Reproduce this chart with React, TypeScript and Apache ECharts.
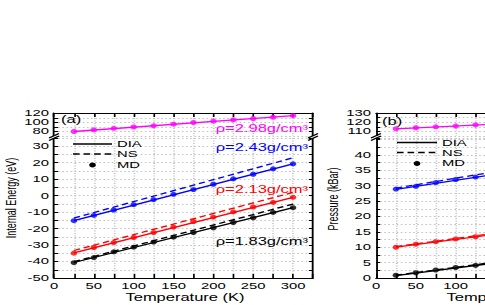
import { useEffect, useRef } from 'react';
import * as echarts from 'echarts';

// ---------- data: panel (a) internal energy (eV) ----------
const temperatures = [25, 50, 75, 100, 125, 150, 175, 200, 225, 250, 275, 300];
const lineEndsA = [25, 300];
const mdEnergy298 = [80, 83.6, 87, 90, 92.6, 96.2, 100, 103, 105.7, 108.5, 111.5, 115];
const mdEnergy243 = [-15.2, -12.0, -8.7, -5.5, -2.4, 0.8, 3.7, 6.9, 10.2, 13.0, 16.3, 19.3];
const mdEnergy213 = [-34.9, -31.5, -28.5, -25.4, -22.4, -19.1, -15.7, -13.0, -9.9, -6.9, -4.1, -1.0];
const mdEnergy183 = [-40.7, -37.6, -34.1, -31.3, -28.2, -25.2, -22.4, -19.5, -16.3, -13.4, -10.2, -7.3];
const diaEnergy298 = [80, 115];
const diaEnergy243 = [-15.2, 19.3];
const diaEnergy213 = [-34.8, -1.0];
const diaEnergy183 = [-40.6, -7.3];
const nsEnergy243 = [-13.6, 23.0];
const nsEnergy213 = [-33.3, 2.0];
const nsEnergy183 = [-40.1, -5.1];

// ---------- data: panel (b) pressure (kBar) ----------
const temperaturesB = [25, 50, 75, 100, 125];
const lineEndsB = [25, 150];
const mdPress298 = [112.8, 114.0, 115.0, 115.8, 117.1];
const mdPress243 = [28.9, 29.8, 31.0, 32.0, 32.8];
const mdPress213 = [10.0, 11.0, 11.8, 12.7, 13.4];
const mdPress183 = [0.9, 1.7, 2.6, 3.4, 4.1];
const diaPress298 = [112.8, 118.0];
const diaPress243 = [28.8, 33.7];
const diaPress213 = [10.0, 14.2];
const diaPress183 = [0.8, 4.9];
const nsPress243 = [29.2, 34.6];
const nsPress213 = [10.2, 14.6];
const nsPress183 = [0.9, 5.2];

// ---------- tick labels ----------
const xTickLabels = [0, 50, 100, 150, 200, 250, 300];
const xTickLabelsB = [0, 50, 100];
const energyLowLabels = [-50, -40, -30, -20, -10, 0, 10, 20, 30];
const energyHighLabels = [80, 100, 120];
const pressLowLabels = [0, 5, 10, 15, 20, 25, 30, 35, 40];
const pressHighLabels = [110, 120, 130];

const densityLabels = ['ρ=2.98g/cm³', 'ρ=2.43g/cm³', 'ρ=2.13g/cm³', 'ρ=1.83g/cm³'];
const colors = ['#ff00ff', '#0000ff', '#ff0000', '#000000'];

const pairs = (xs: number[], ys: number[]) => xs.map((x, i) => [x, ys[i]]);

const FONT = 'Liberation Sans';
// the reference is drawn horizontally stretched; the chart is drawn narrow and widened by this factor
const S = 1.65;
const px = (x: number) => x / S;

export default function App() {
  const ref = useRef<HTMLDivElement>(null);
  useEffect(() => {
    if (!ref.current) return;
    const chart = echarts.init(ref.current, undefined, { renderer: 'svg' });

    const tickX = { show: true, inside: true, length: 4, lineStyle: { color: '#000', width: 1 } };
    const tickY = { show: true, inside: true, length: 2.5, lineStyle: { color: '#000', width: 1 } };
    const axLine = { show: true, onZero: false, lineStyle: { color: '#000', width: 1.1 } };
    const grid = { show: true, lineStyle: { color: '#c4c4c4', type: [1, 1.5], width: 1 } };
    const lbl = (list: number[]) => ({
      show: true,
      fontFamily: FONT,
      fontSize: 9,
      color: '#000',
      margin: 3,
      formatter: (v: number) => (list.includes(Math.round(v * 100) / 100) ? String(v) : ''),
    });

    const xAx = (gridIndex: number, top: boolean, labels: number[]) => ({
      type: 'value',
      gridIndex,
      min: 0,
      max: 325,
      interval: 25,
      position: top ? 'top' : 'bottom',
      axisLine: axLine,
      axisTick: tickX,
      axisLabel: top ? { show: false } : { ...lbl(labels), margin: 4 },
      splitLine: grid,
    });
    const yAx = (gridIndex: number, min: number, max: number, interval: number, labels: number[] | null, right: boolean) => ({
      type: 'value',
      gridIndex,
      min,
      max,
      interval,
      position: right ? 'right' : 'left',
      axisLine: axLine,
      axisTick: tickY,
      axisLabel: right || !labels ? { show: false } : lbl(labels),
      splitLine: right ? { show: false } : grid,
    });

    const series: any[] = [];
    const addLine = (xi: number, yi: number, xs: number[], ys: number[], color: string, dashed: boolean) =>
      series.push({
        type: 'line',
        xAxisIndex: xi,
        yAxisIndex: yi,
        data: pairs(xs, ys),
        showSymbol: false,
        symbol: 'none',
        lineStyle: { color, width: 1.3, type: dashed ? [4, 2.4] : 'solid' },
        z: 3,
      });
    const addMD = (xi: number, yi: number, xs: number[], ys: number[], color: string) =>
      series.push({
        type: 'scatter',
        xAxisIndex: xi,
        yAxisIndex: yi,
        data: pairs(xs, ys),
        symbol: 'circle',
        symbolSize: [4, 5],
        itemStyle: { color },
        z: 4,
      });

    // panel (a)
    addLine(0, 0, lineEndsA, diaEnergy298, colors[0], false);
    addMD(0, 0, temperatures, mdEnergy298, colors[0]);
    addLine(1, 2, lineEndsA, diaEnergy243, colors[1], false);
    addLine(1, 2, lineEndsA, nsEnergy243, colors[1], true);
    addMD(1, 2, temperatures, mdEnergy243, colors[1]);
    addLine(1, 2, lineEndsA, diaEnergy213, colors[2], false);
    addLine(1, 2, lineEndsA, nsEnergy213, colors[2], true);
    addMD(1, 2, temperatures, mdEnergy213, colors[2]);
    addLine(1, 2, lineEndsA, diaEnergy183, colors[3], false);
    addLine(1, 2, lineEndsA, nsEnergy183, colors[3], true);
    addMD(1, 2, temperatures, mdEnergy183, colors[3]);
    // panel (b)
    addLine(2, 4, lineEndsB, diaPress298, colors[0], false);
    addMD(2, 4, temperaturesB, mdPress298, colors[0]);
    addLine(3, 6, lineEndsB, diaPress243, colors[1], false);
    addLine(3, 6, lineEndsB, nsPress243, colors[1], true);
    addMD(3, 6, temperaturesB, mdPress243, colors[1]);
    addLine(3, 6, lineEndsB, diaPress213, colors[2], false);
    addLine(3, 6, lineEndsB, nsPress213, colors[2], true);
    addMD(3, 6, temperaturesB, mdPress213, colors[2]);
    addLine(3, 6, lineEndsB, diaPress183, colors[3], false);
    addLine(3, 6, lineEndsB, nsPress183, colors[3], true);
    addMD(3, 6, temperaturesB, mdPress183, colors[3]);

    const txt = (text: string, x: number, y: number, opts: any = {}) => ({
      type: 'text',
      x: px(x),
      y,
      z: 10,
      rotation: opts.rotation || 0,
      style: {
        text,
        fill: opts.color || '#000',
        font: `${opts.size || 9}px "${FONT}"`,
        align: opts.align || 'left',
        verticalAlign: 'middle',
      },
    });
    const ln = (x1: number, y1: number, x2: number, y2: number, dashed = false) => ({
      type: 'line',
      z: 10,
      shape: { x1: px(x1), y1, x2: px(x2), y2 },
      style: { stroke: '#000', lineWidth: 1.3, lineDash: dashed ? [4, 2.4] : null },
    });
    const brk = (x: number, y: number) => [
      { type: 'rect', z: 9, shape: { x: px(x) - 2.5, y: y - 1, width: 5, height: 2 }, style: { fill: '#fff' } },
      { type: 'line', z: 10, shape: { x1: px(x) - 3, y1: y + 1, x2: px(x) + 3, y2: y - 3.5 }, style: { stroke: '#000', lineWidth: 1 } },
      { type: 'line', z: 10, shape: { x1: px(x) - 3, y1: y + 3.5, x2: px(x) + 3, y2: y - 1 }, style: { stroke: '#000', lineWidth: 1 } },
    ];
    const legend = (x0: number, x1: number, tx: number, y: number) => [
      ln(x0, y, x1, y),
      txt('DIA', tx, y + 0.5),
      ln(x0, y + 10, x1, y + 10, true),
      txt('NS', tx, y + 10.5),
      { type: 'ellipse', z: 10, shape: { cx: px((x0 + x1) / 2), cy: y + 21, rx: 2, ry: 2.5 }, style: { fill: '#000' } },
      txt('MD', tx, y + 21),
    ];

    const gA = px(54);
    const gB = px(376);
    const gW = px(259);

    chart.setOption({
      animation: false,
      backgroundColor: '#ffffff',
      grid: [
        { left: gA, width: gW, top: 113, height: 23 },
        { left: gA, width: gW, top: 138, height: 140 },
        { left: gB, width: gW, top: 113, height: 23 },
        { left: gB, width: gW, top: 138, height: 140 },
      ],
      xAxis: [
        xAx(0, true, xTickLabels),
        xAx(1, false, xTickLabels),
        xAx(2, true, xTickLabelsB),
        xAx(3, false, xTickLabelsB),
      ],
      yAxis: [
        yAx(0, 70, 121, 10, energyHighLabels, false),
        yAx(0, 70, 121, 10, null, true),
        yAx(1, -50, 35, 5, energyLowLabels, false),
        yAx(1, -50, 35, 5, null, true),
        yAx(2, 105, 130, 5, pressHighLabels, false),
        yAx(2, 105, 130, 5, null, true),
        yAx(3, 0, 45.5, 2.5, pressLowLabels, false),
        yAx(3, 0, 45.5, 2.5, null, true),
      ],
      series,
      graphic: [
        txt('(a)', 61, 120, { size: 10 }),
        txt('(b)', 382, 122, { size: 10 }),
        ...legend(73, 112, 117, 144),
        ...legend(397, 437, 442, 142.5),
        txt(densityLabels[0], 308, 129, { color: colors[0], align: 'right', size: 10 }),
        txt(densityLabels[1], 308, 148, { color: colors[1], align: 'right', size: 10 }),
        txt(densityLabels[2], 308, 190, { color: colors[2], align: 'right', size: 10 }),
        txt(densityLabels[3], 308, 241.5, { color: colors[3], align: 'right', size: 10 }),
        txt('Internal Energy (eV)', 11, 198, { rotation: Math.PI / 2, align: 'center', size: 9 }),
        txt('Pressure (kBar)', 333, 199, { rotation: Math.PI / 2, align: 'center', size: 9 }),
        txt('Temperature (K)', 185, 298, { align: 'center', size: 10 }),
        txt('Temperature (K)', 506, 298, { align: 'center', size: 10 }),
        ...brk(54, 137),
        ...brk(313, 137),
        ...brk(376, 137),
      ],
    });
    return () => chart.dispose();
  }, []);
  return (
    <div style={{ position: 'fixed', left: 0, top: 0, width: 485, height: 305, overflow: 'hidden', background: '#fff' }}>
      <div
        ref={ref}
        style={{ width: 420, height: 305, transform: `scaleX(${S})`, transformOrigin: '0 0' }}
      />
    </div>
  );
}
